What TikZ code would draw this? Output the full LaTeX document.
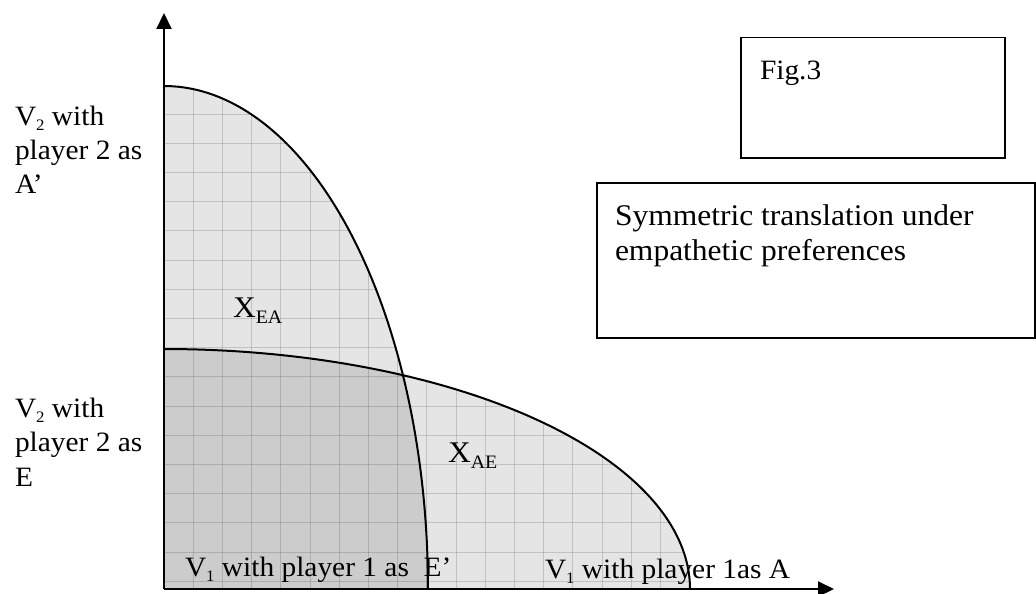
\documentclass[tikz,border=0pt]{standalone}
\usepackage{fontspec}
\setmainfont{Liberation Serif}[FakeStretch=1.05]
\usetikzlibrary{arrows.meta}
\newcommand{\lowsub}[1]{\raisebox{-5pt}{\fontsize{16}{16}\selectfont #1}}
\newcommand{\bigsub}[1]{\raisebox{-6pt}{\fontsize{19}{19}\selectfont #1}}
\begin{document}
\begin{tikzpicture}[x=1pt,y=-1pt,
  lbl/.style={anchor=base west, inner sep=0pt, outer sep=0pt, font=\fontsize{28}{33}\selectfont},
  titlelbl/.style={anchor=base west, inner sep=0pt, outer sep=0pt, font=\fontsize{30}{33}\selectfont},
  biglbl/.style={anchor=base west, inner sep=0pt, outer sep=0pt, font=\fontsize{30}{30}\selectfont},
  curve/.style={line width=2pt, black},
  axis/.style={line width=2pt, -{Triangle[length=16pt,width=15pt]}},
  frame/.style={draw, line width=1.5pt},
  gridline/.style={black, opacity=0.15, line width=1pt}]
\useasboundingbox (0,0) rectangle (1036,594);
\coordinate (O) at (164,589);
\coordinate (ytop) at (164,13);
\coordinate (xend) at (834,589);
% light fills
\fill[black!10] (164,589) -- plot[domain=90:0,samples=150] ({164+264*cos(\x)},{589-503*sin(\x)}) -- cycle;
\fill[black!10] (164,589) -- plot[domain=90:0,samples=150] ({164+526*cos(\x)},{589-240*sin(\x)}) -- cycle;
% overlap darker
\begin{scope}
\clip (164,589) -- plot[domain=90:0,samples=150] ({164+264*cos(\x)},{589-503*sin(\x)}) -- cycle;
\fill[black!20] (164,589) -- plot[domain=90:0,samples=150] ({164+526*cos(\x)},{589-240*sin(\x)}) -- cycle;
\end{scope}
% grid inside union
\begin{scope}
\clip (164,589) -- plot[domain=90:0,samples=150] ({164+264*cos(\x)},{589-503*sin(\x)}) -- cycle
      (164,589) -- plot[domain=90:0,samples=150] ({164+526*cos(\x)},{589-240*sin(\x)}) -- cycle;
\foreach \i in {1,...,19} \draw[gridline] ({164+29.2*\i},80) -- ({164+29.2*\i},589);
\foreach \j in {-1,...,16} \draw[gridline] (164,{552-29.2*\j}) -- (700,{552-29.2*\j});
\end{scope}
% boundary curves
\draw[curve] plot[domain=90:0,samples=150] ({164+264*cos(\x)},{589-503*sin(\x)});
\draw[curve] plot[domain=90:0,samples=150] ({164+526*cos(\x)},{589-240*sin(\x)});
% axes
\draw[axis] (O) -- (ytop);
\draw[axis] (O) -- (xend);
% boxes
\node[frame, anchor=north west, minimum width=264pt, minimum height=120pt, inner sep=0pt] (figbox) at (740,37) {};
\node[frame, anchor=north west, minimum width=438pt, minimum height=155pt, inner sep=0pt] (titlebox) at (596,182) {};
% texts
\node[lbl] (fig) at (760,80) {Fig.3};
\node[titlelbl] (t1) at (615,225) {Symmetric translation under};
\node[titlelbl] (t2) at (615,260) {empathetic preferences};
\node[lbl] (a1) at (15,125) {V\lowsub{2} with};
\node[lbl] (a2) at (15,159) {player 2 as};
\node[lbl] (a3) at (15,193) {A’};
\node[lbl] (e1) at (15,417) {V\lowsub{2} with};
\node[lbl] (e2) at (15,451) {player 2 as};
\node[lbl] (e3) at (15,486) {E};
\node[biglbl] (xea) at (233,317) {X\bigsub{EA}};
\node[biglbl] (xae) at (448,462) {X\bigsub{AE}};
\node[lbl] (b1) at (185,576) {V\lowsub{1} with player 1 as\ \ E’};
\node[lbl] (b2) at (545,578) {V\lowsub{1} with player 1as A};
\end{tikzpicture}
\end{document}
